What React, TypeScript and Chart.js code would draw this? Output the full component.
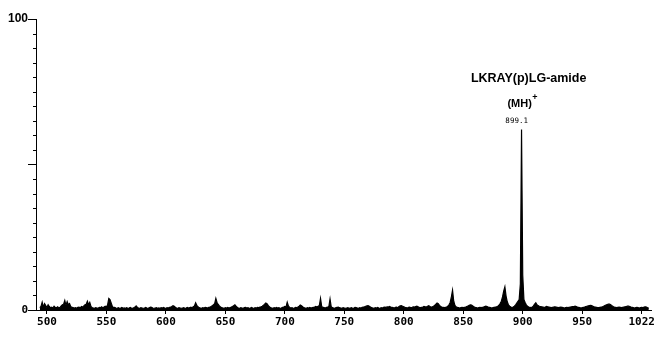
import React, { useEffect, useRef } from 'react';
import Chart from 'chart.js/auto';

// Relative intensity (%) sampled every 1 m/z unit, starting at m/z 494
const mzStart = 494;
const intensity = [
  // 494
  0.8, 1.2, 2.7, 1.0, 2.2, 1.5, 0.9, 1.8, 1.2, 0.8,
  // 504
  1.0, 0.7, 1.3, 0.9, 0.8, 1.1, 0.7, 0.9, 1.4, 1.8,
  // 514
  2.0, 3.3, 1.6, 2.9, 1.8, 2.2, 1.2, 0.9, 0.8, 0.7,
  // 524
  0.8, 0.6, 0.9, 1.0, 0.7, 1.2, 1.0, 1.4, 1.8, 2.0,
  // 534
  3.0, 1.8, 2.6, 1.2, 0.8, 0.7, 0.6, 0.8, 0.7, 0.6,
  // 544
  0.9, 0.8, 1.1, 0.7, 1.0, 1.3, 1.0, 1.8, 4.0, 3.6,
  // 554
  2.4, 1.2, 0.8, 0.9, 0.7, 0.6, 0.8, 0.6, 0.7, 0.9,
  // 564
  0.6, 0.7, 0.6, 0.8, 0.6, 0.7, 0.9, 0.7, 0.6, 0.8,
  // 574
  1.0, 1.4, 0.9, 0.7, 0.6, 0.8, 0.7, 0.6, 0.7, 0.9,
  // 584
  0.7, 0.6, 0.8, 1.0, 0.9, 0.7, 0.6, 0.7, 0.8, 0.6,
  // 594
  0.7, 0.6, 0.8, 0.7, 0.9, 0.7, 0.6, 0.8, 0.7, 0.9,
  // 604
  1.0, 1.2, 1.5, 1.3, 0.9, 0.7, 0.6, 0.8, 0.7, 0.6,
  // 614
  0.7, 0.8, 0.6, 0.7, 0.9, 0.7, 0.8, 1.0, 0.8, 1.1,
  // 624
  1.4, 2.5, 1.6, 1.1, 0.8, 0.7, 0.6, 0.8, 0.7, 0.9,
  // 634
  0.8, 0.7, 0.9, 1.0, 1.2, 1.5, 1.8, 2.2, 4.0, 2.6,
  // 644
  1.9, 1.4, 1.0, 0.8, 0.7, 0.6, 0.8, 0.7, 0.9, 0.7,
  // 654
  0.8, 1.0, 1.2, 1.5, 1.8, 1.3, 0.9, 0.7, 0.6, 0.8,
  // 664
  0.7, 0.6, 0.8, 0.9, 0.7, 0.8, 0.6, 0.7, 0.9, 0.7,
  // 674
  0.6, 0.8, 0.7, 0.9, 0.8, 1.0, 1.1, 1.3, 1.6, 2.0,
  // 684
  2.4, 2.2, 1.6, 1.1, 0.8, 0.7, 0.6, 0.8, 0.7, 0.9,
  // 694
  0.7, 0.8, 0.6, 0.7, 0.9, 1.0, 1.2, 1.1, 2.7, 1.4,
  // 704
  0.9, 0.7, 0.8, 0.6, 0.7, 0.9, 0.8, 1.0, 1.3, 1.7,
  // 714
  1.5, 1.1, 0.8, 0.7, 0.6, 0.8, 0.7, 0.9, 0.7, 0.8,
  // 724
  0.9, 1.0, 1.2, 1.0, 1.3, 1.5, 4.0, 1.2, 0.9, 0.8,
  // 734
  0.7, 0.9, 1.0, 1.2, 3.8, 1.1, 0.8, 0.7, 0.6, 0.8,
  // 744
  0.9, 1.0, 0.8, 0.7, 0.6, 0.8, 0.7, 0.6, 0.7, 0.8,
  // 754
  0.6, 0.7, 0.8, 0.6, 0.7, 0.9, 0.8, 0.7, 0.6, 0.8,
  // 764
  0.7, 0.9, 1.0, 1.1, 1.3, 1.4, 1.5, 1.3, 1.0, 0.8,
  // 774
  0.7, 0.6, 0.8, 0.7, 0.9, 0.7, 0.6, 0.8, 0.7, 0.9,
  // 784
  1.0, 0.9, 1.1, 1.0, 1.2, 1.0, 0.9, 0.8, 0.7, 0.9,
  // 794
  1.0, 0.8, 1.2, 1.4, 1.5, 1.3, 1.1, 0.9, 0.8, 0.7,
  // 804
  0.9, 1.0, 0.8, 0.9, 1.1, 1.0, 1.2, 1.3, 1.1, 0.9,
  // 814
  0.8, 0.9, 1.0, 1.2, 1.1, 1.0, 1.3, 1.5, 1.2, 1.0,
  // 824
  1.1, 1.3, 1.6, 2.0, 2.4, 2.2, 1.6, 1.2, 1.0, 0.9,
  // 834
  0.8, 0.9, 1.0, 1.3, 1.8, 2.6, 4.5, 6.8, 3.0, 1.6,
  // 844
  1.1, 0.9, 0.8, 0.7, 0.8, 0.9, 0.8, 0.9, 1.0, 1.2,
  // 854
  1.4, 1.6, 1.8, 1.7, 1.4, 1.1, 0.9, 0.8, 0.7, 0.8,
  // 864
  0.9, 0.8, 0.9, 1.0, 1.2, 1.3, 1.2, 1.0, 0.9, 0.8,
  // 874
  0.7, 0.8, 0.9, 1.0, 1.1, 1.3, 1.6, 2.2, 3.0, 4.5,
  // 884
  6.5, 8.0, 4.8, 2.8, 1.8, 1.3, 1.0, 0.9, 1.0, 1.3,
  // 894
  1.8, 2.4, 3.0, 3.6, 9.0, 62.0, 12.0, 3.6, 2.6, 1.8,
  // 904
  1.3, 1.0, 0.9, 0.8, 1.0, 1.4, 2.0, 2.5, 1.8, 1.5,
  // 914
  1.3, 1.2, 1.1, 1.0, 0.9, 1.0, 1.2, 1.1, 1.0, 0.9,
  // 924
  0.8, 0.9, 1.0, 1.1, 1.0, 0.9, 0.8, 0.9, 1.0, 0.9,
  // 934
  0.8, 0.7, 0.8, 0.9, 0.8, 0.9, 1.0, 1.1, 1.2, 1.2,
  // 944
  1.3, 1.2, 1.0, 0.9, 0.8, 0.7, 0.8, 0.9, 1.0, 1.2,
  // 954
  1.3, 1.4, 1.5, 1.6, 1.5, 1.3, 1.1, 1.0, 0.9, 0.8,
  // 964
  0.8, 0.9, 1.0, 1.1, 1.3, 1.5, 1.7, 1.9, 2.0, 2.0,
  // 974
  1.8, 1.5, 1.2, 1.0, 0.9, 0.8, 0.9, 1.0, 0.9, 0.8,
  // 984
  0.9, 1.0, 1.1, 1.2, 1.3, 1.3, 1.2, 1.0, 0.9, 0.8,
  // 994
  0.7, 0.8, 0.9, 0.8, 0.7, 0.8, 0.9, 0.8, 1.0, 1.1,
  // 1004
  1.0, 0.8, 0.6,
];
const mz = intensity.map((_, i) => mzStart + i);

const xTickValues = [500, 550, 600, 650, 700, 750, 800, 850, 900, 950, 1000];
const xTickLabels = ['500', '550', '600', '650', '700', '750', '800', '850', '900', '950', '1022'];
const yTickValues = [0, 50, 100];
const yTickLabels = ['0', '', '100'];
const yMinorTicks = [5, 10, 15, 20, 25, 30, 35, 40, 45, 55, 60, 65, 70, 75, 80, 85, 90, 95];

const peakMz = 899.1;
const peakIntensity = 62;
const peakLabel = '899.1';
const compoundLabel = 'LKRAY(p)LG-amide';
const ionLabel = '(MH)';
const ionCharge = '+';

const sansBold = 'bold 12px "Liberation Sans", Arial, sans-serif';
const monoFont = 'bold 11px "DejaVu Sans Mono", monospace';

const annotationPlugin = {
  id: 'spectrumAnnotations',
  afterDraw(chart: any) {
    const { ctx, scales, chartArea } = chart;
    const x = scales.x;
    const y = scales.y;
    ctx.save();
    // minor y ticks
    ctx.strokeStyle = '#000';
    ctx.lineWidth = 1;
    yMinorTicks.forEach((v) => {
      const py = Math.round(y.getPixelForValue(v)) + 0.5;
      ctx.beginPath();
      ctx.moveTo(chartArea.left - 3, py);
      ctx.lineTo(chartArea.left, py);
      ctx.stroke();
    });
    // peak annotations
    const px = x.getPixelForValue(peakMz);
    const py = y.getPixelForValue(peakIntensity);
    ctx.fillStyle = '#000';
    ctx.textBaseline = 'middle';
    ctx.textAlign = 'center';
    ctx.font = 'bold 12.5px "Liberation Sans", Arial, sans-serif';
    ctx.fillText(compoundLabel, px + 7, py - 51);
    ctx.font = 'bold 11px "Liberation Sans", Arial, sans-serif';
    ctx.fillText(ionLabel, px - 2, py - 26);
    const w = ctx.measureText(ionLabel).width;
    ctx.font = 'bold 9px "Liberation Sans", Arial, sans-serif';
    ctx.textAlign = 'left';
    ctx.fillText(ionCharge, px - 2 + w / 2 + 0.5, py - 32);
    ctx.textAlign = 'center';
    ctx.font = '7.5px "DejaVu Sans Mono", monospace';
    ctx.fillText(peakLabel, px - 5, py - 9);
    ctx.restore();
  },
};

export default function App() {
  const canvasRef = useRef<HTMLCanvasElement | null>(null);

  useEffect(() => {
    document.body.style.margin = '0';
    const canvas = canvasRef.current;
    if (!canvas) return;
    const chart = new Chart(canvas, {
      type: 'line',
      data: {
        datasets: [
          {
            data: mz.map((m, i) => ({ x: m, y: intensity[i] })),
            borderColor: '#000',
            backgroundColor: '#000',
            borderWidth: 1.2,
            fill: 'origin',
            pointRadius: 0,
            tension: 0,
          },
        ],
      },
      options: {
        animation: false,
        responsive: false,
        devicePixelRatio: 1,
        layout: { padding: { top: 19, right: 5, left: 0, bottom: 0 } },
        plugins: {
          legend: { display: false },
          tooltip: { enabled: false },
        },
        scales: {
          x: {
            type: 'linear',
            min: 490.8,
            max: 1008.4,
            afterBuildTicks: (scale: any) => {
              scale.ticks = xTickValues.map((v) => ({ value: v }));
            },
            afterFit: (scale: any) => {
              scale.height = 27;
            },
            grid: {
              drawOnChartArea: false,
              drawTicks: true,
              tickLength: 4,
              color: '#000',
            },
            border: { display: true, color: '#000', width: 1 },
            ticks: {
              autoSkip: false,
              maxRotation: 0,
              padding: 2,
              color: '#000',
              font: { family: '"DejaVu Sans Mono", monospace', size: 11, weight: 'bold' },
              callback: (_v: any, i: number) => xTickLabels[i],
            },
          },
          y: {
            min: 0,
            max: 100,
            afterBuildTicks: (scale: any) => {
              scale.ticks = yTickValues.map((v) => ({ value: v }));
            },
            afterFit: (scale: any) => {
              scale.width = 36;
            },
            grid: {
              drawOnChartArea: false,
              drawTicks: true,
              tickLength: 8,
              color: '#000',
            },
            border: { display: true, color: '#000', width: 1 },
            ticks: {
              padding: 0,
              color: '#000',
              font: (ctx: any) =>
                ctx.tick && ctx.tick.value === 0
                  ? { family: '"DejaVu Sans Mono", monospace', size: 11, weight: 'bold' }
                  : { family: '"Liberation Sans", Arial, sans-serif', size: 12, weight: 'bold' },
              callback: (_v: any, i: number) => yTickLabels[i],
            },
          },
        },
      },
      plugins: [annotationPlugin],
    });
    return () => chart.destroy();
  }, []);

  return (
    <div style={{ position: 'absolute', left: 0, top: 0, width: 657, height: 337, background: '#fff' }}>
      <canvas ref={canvasRef} width={657} height={337} style={{ display: 'block' }} />
    </div>
  );
}
